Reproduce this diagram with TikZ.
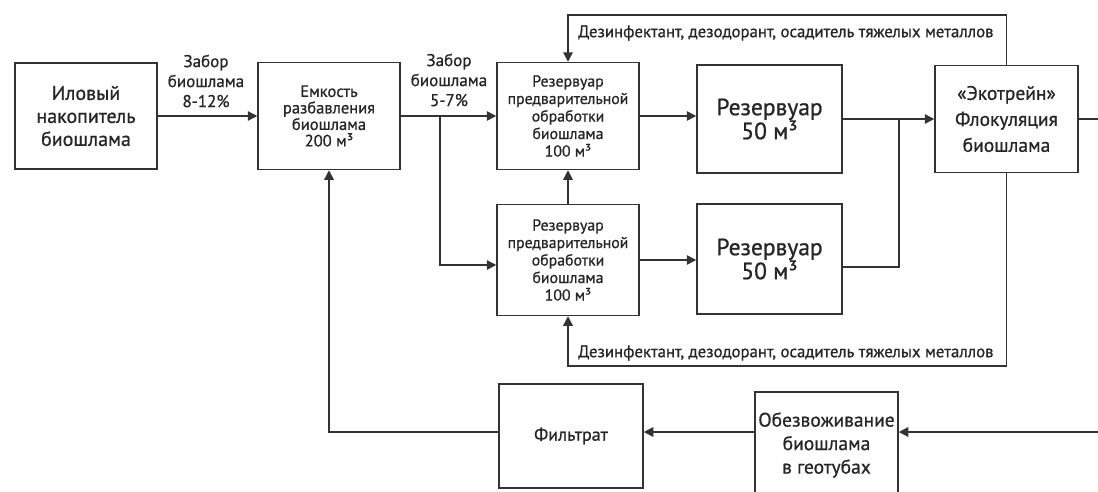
\documentclass[tikz,border=0pt]{standalone}
\usepackage{fontspec}
\setmainfont{PT Sans}[FakeBold=0.8]
\usetikzlibrary{arrows.meta}
\begin{document}
\begin{tikzpicture}[x=1pt,y=-1pt,
  box/.style={draw=black!80, line width=1.5pt, fill=white, align=center, inner sep=0pt, text=black!85},
  ln/.style={draw=black!80, line width=1.4pt},
  arr/.style={ln, -{Triangle[length=9.5pt,width=9.5pt]}},
  lbl/.style={align=center, inner sep=0pt, text=black!85, font=\fontsize{17}{20}\selectfont}]
\useasboundingbox[fill=white] (0,0) rectangle (1098,491);
% boxes
\node[box, minimum width=142pt, minimum height=106pt, font=\fontsize{20}{23}\selectfont] (b1) at (86,116) {Иловый\\накопитель\\биошлама};
\node[box, minimum width=142pt, minimum height=107pt, font=\fontsize{16.5}{16.5}\selectfont] (b2) at (329,116) {Емкость\\разбавления\\биошлама\\200 м³};
\node[box, minimum width=142pt, minimum height=107pt, font=\fontsize{15.8}{17.5}\selectfont] (b3) at (568,116) {Резервуар\\предварительной\\обработки\\биошлама\\100 м³};
\node[box, minimum width=142pt, minimum height=111pt, font=\fontsize{15.8}{17.5}\selectfont] (b4) at (568,260) {Резервуар\\предварительной\\обработки\\биошлама\\100 м³};
\node[box, minimum width=145pt, minimum height=108pt, font=\fontsize{23.5}{24}\selectfont] (b5) at (769.5,119) {Резервуар\\50 м³};
\node[box, minimum width=145pt, minimum height=110pt, font=\fontsize{23.5}{24}\selectfont] (b6) at (769.5,259) {Резервуар\\50 м³};
\node[box, minimum width=143pt, minimum height=107pt, font=\fontsize{19.5}{26}\selectfont] (b7) at (1006.5,119) {«Экотрейн»\\Флокуляция\\биошлама};
\node[box, minimum width=144pt, minimum height=104pt, font=\fontsize{18}{22}\selectfont] (b8) at (571,436) {Фильтрат};
\node[box, minimum width=143pt, minimum height=106pt, font=\fontsize{19.5}{23.5}\selectfont] (b9) at (826.5,445) {Обезвоживание\\биошлама\\в геотубах};
% labels
\node[lbl] (l1) at (206,81) {Забор\\биошлама\\8-12\%};
\node[lbl] (l2) at (449,80) {Забор\\биошлама\\5-7\%};
\node[lbl, anchor=west, font=\fontsize{16.75}{20}\selectfont] (l3) at (578,33) {Дезинфектант, дезодорант, осадитель тяжелых металлов};
\node[lbl, anchor=west, font=\fontsize{16.75}{20}\selectfont] (l4) at (578,353) {Дезинфектант, дезодорант, осадитель тяжелых металлов};
% coordinates
\coordinate (br) at (440,116);
\coordinate (brd) at (440,265);
\coordinate (j1) at (899,119);
\coordinate (j2) at (899,267);
\coordinate (tl) at (568,15);
\coordinate (bl) at (568,366);
\coordinate (eR1) at (1098,119);
\coordinate (eR2) at (1098,432);
% connectors
\draw[arr] (b1) -- (b2);
\draw[arr] (b2) -- (b3);
\draw[arr] (br) |- (b4.west |- brd);
\draw[arr] (b3.east) -- (b3.east -| b5.west);
\draw[arr] (b4.east) -- (b4.east -| b6.west);
\draw[arr] (b4) -- (b3);
\draw[arr] (b5.east) -- (b5.east -| b7.west);
\draw[ln] (b6.east |- j2) -- (j2) -- (j1);
\draw[ln] (b7.east) -- (eR1);
\draw[arr] (b7.north) |- (tl) -- (b3.north);
\draw[arr] (b7.south) |- (bl) -- (b4.south);
\draw[arr] (eR2) -- (b9.east |- eR2);
\draw[arr] (b9.west |- eR2) -- (b8.east |- eR2);
\draw[arr] (b8.west |- eR2) -| (b2.south);
\end{tikzpicture}
\end{document}
